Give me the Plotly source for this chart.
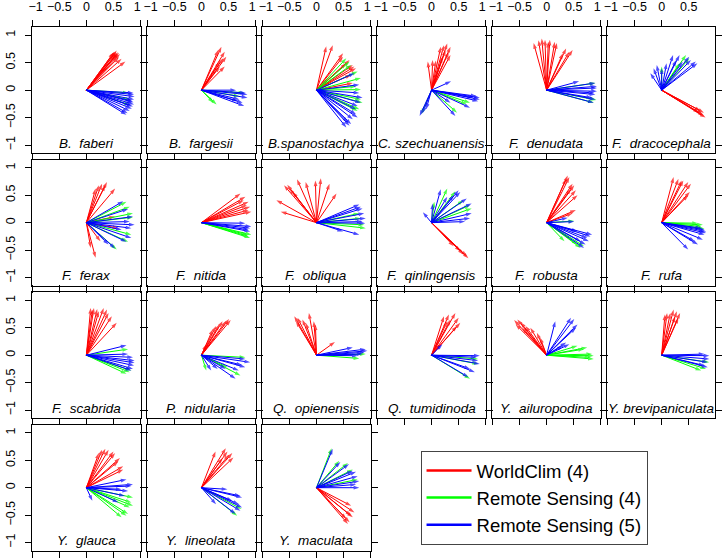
import plotly.graph_objects as go

species = [
    "B.\u00a0 faberi", "B.\u00a0 fargesii", "B.spanostachya", "C. szechuanensis",
    "F.\u00a0 denudata", "F.\u00a0 dracocephala", "F.\u00a0 ferax", "F.\u00a0 nitida",
    "F.\u00a0 obliqua", "F.\u00a0 qinlingensis", "F.\u00a0 robusta", "F.\u00a0 rufa",
    "F.\u00a0 scabrida", "P.\u00a0 nidularia", "Q.\u00a0 opienensis", "Q.\u00a0 tumidinoda",
    "Y.\u00a0 ailuropodina", "Y. brevipaniculata", "Y.\u00a0 glauca", "Y.\u00a0 lineolata",
    "Y.\u00a0 maculata",
]

tick_vals = [-1, -0.5, 0, 0.5, 1]
# padded end labels so that "1" and "-1" of neighbouring panels lean apart
x_tick_text = ["\u00a0\u00a0\u22121", "\u22120.5", "0", "0.5", "1\u00a0\u00a0"]
y_tick_text = ["\u22121", "\u22120.5", "0", "0.5", "1"]

# arrow tips (x, y) per panel, WorldClim (4)
red_tips = [
    [(0.52, 0.70), (0.55, 0.70), (0.58, 0.69), (0.60, 0.68), (0.62, 0.66), (0.57, 0.66), (0.50, 0.68), (0.60, 0.60), (0.65, 0.57), (0.72, 0.52), (0.56, 0.72), (0.54, 0.64)],
    [(0.37, 0.79), (0.43, 0.70), (0.40, 0.58), (0.34, 0.43), (0.43, 0.43), (0.31, 0.73), (0.46, 0.61), (0.34, 0.52)],
    [(0.18, 0.80), (0.30, 0.82), (0.49, 0.67), (0.67, 0.46), (0.70, 0.43), (0.61, 0.55), (0.67, 0.13), (0.49, 0.61), (0.73, 0.40), (0.64, 0.28), (0.55, 0.49)],
    [(0.29, 0.85), (0.35, 0.79), (0.17, 0.79), (0.23, 0.82), (0.32, 0.70), (0.35, 0.64), (-0.07, 0.52), (0.02, 0.55), (0.08, 0.54), (0.26, 0.73), (0.20, 0.61)],
    [(-0.24, 0.86), (-0.15, 0.91), (-0.09, 0.94), (-0.03, 0.92), (0.06, 0.92), (0.15, 0.88), (0.19, 0.86), (0.36, 0.76), (0.48, 0.73), (0.42, 0.70), (0.03, 0.88), (0.30, 0.67)],
    [(0.78, -0.47), (0.75, -0.44), (0.69, -0.41), (0.81, -0.50), (0.72, -0.38), (0.78, -0.41)],
    [(0.23, 0.68), (0.29, 0.71), (0.38, 0.74), (0.35, 0.68), (0.53, 0.62), (0.17, 0.62), (0.53, 0.11), (0.59, -0.10), (0.08, -0.46), (0.17, -0.64), (0.26, -0.34)],
    [(0.72, 0.53), (0.81, 0.47), (0.87, 0.38), (0.90, 0.29), (0.87, 0.23), (0.78, 0.41), (0.84, 0.32), (0.92, 0.20)],
    [(-0.74, 0.41), (-0.66, 0.20), (-0.60, 0.68), (-0.54, 0.69), (-0.50, 0.62), (-0.36, 0.79), (-0.20, 0.74), (-0.02, 0.77), (0.08, 0.81), (0.24, 0.71), (0.37, 0.53), (-0.44, 0.56)],
    [(0.68, -0.65), (0.59, -0.58), (0.41, -0.43), (0.65, -0.61), (0.53, -0.52)],
    [(0.39, 0.86), (0.42, 0.83), (0.48, 0.71), (0.51, 0.68), (0.54, 0.59), (0.57, 0.50), (0.54, 0.23), (0.48, 0.17), (0.36, 0.80), (0.45, 0.62)],
    [(0.22, 0.83), (0.31, 0.80), (0.37, 0.77), (0.49, 0.74), (0.54, 0.71), (0.52, 0.56), (0.49, 0.50), (0.40, 0.77)],
    [(0.08, 0.86), (0.14, 0.86), (0.20, 0.84), (0.32, 0.86), (0.38, 0.83), (0.41, 0.77), (0.47, 0.71), (0.56, 0.59), (0.23, 0.80), (0.11, 0.83)],
    [(0.51, 0.66), (0.54, 0.64), (0.39, 0.62), (0.33, 0.56), (0.27, 0.53), (0.45, 0.62), (0.09, 0.20), (0.21, 0.47)],
    [(-0.41, 0.71), (-0.35, 0.68), (-0.26, 0.65), (-0.14, 0.77), (-0.05, 0.62), (-0.02, 0.56), (-0.20, 0.59), (0.34, 0.24), (-0.38, 0.62)],
    [(0.23, 0.71), (0.32, 0.74), (0.44, 0.77), (0.50, 0.68), (0.53, 0.59), (0.47, 0.53), (0.29, 0.62), (0.35, 0.65), (0.17, 0.20)],
    [(-0.60, 0.64), (-0.54, 0.65), (-0.48, 0.60), (-0.39, 0.53), (-0.30, 0.50), (-0.18, 0.41), (-0.12, 0.32), (-0.57, 0.56), (-0.45, 0.50)],
    [(0.06, 0.74), (0.10, 0.77), (0.22, 0.83), (0.28, 0.80), (0.34, 0.77), (0.31, 0.68), (0.25, 0.71), (0.16, 0.77)],
    [(0.29, 0.69), (0.35, 0.71), (0.41, 0.69), (0.50, 0.66), (0.53, 0.63), (0.62, 0.54), (0.59, 0.48), (0.68, 0.39), (0.68, 0.33), (0.23, 0.63)],
    [(0.26, 0.66), (0.45, 0.72), (0.48, 0.66), (0.57, 0.63), (0.59, 0.55), (0.39, 0.54), (0.51, 0.60)],
    [(0.64, -0.33), (0.70, -0.45), (0.67, -0.54), (0.61, -0.63), (0.55, -0.57), (0.64, -0.51), (0.58, -0.66)],
]

# Remote Sensing (4)
green_tips = [
    [(0.78, -0.05), (0.80, -0.27), (0.82, -0.18)],
    [(0.28, -0.26), (0.22, -0.23), (0.70, -0.11), (0.79, -0.05)],
    [(0.61, 0.52), (0.64, 0.46), (0.82, 0.22), (0.76, 0.34), (0.73, 0.07), (0.82, 0.01), (0.85, -0.23), (0.79, -0.35), (0.82, -0.17), (0.76, -0.38), (0.55, 0.58)],
    [(0.71, -0.23), (0.47, -0.41), (0.65, -0.26), (-0.19, -0.44)],
    [(0.90, 0.13), (0.87, -0.23), (0.92, -0.18)],
    [(0.45, 0.64), (0.0, 0.43), (0.33, 0.49), (0.51, 0.58)],
    [(0.74, 0.38), (0.80, 0.29), (0.86, 0.17), (0.83, -0.22), (0.56, -0.49), (0.77, -0.35), (0.86, 0.10)],
    [(0.87, -0.25), (0.90, -0.28), (0.84, -0.22), (0.92, -0.22)],
    [(0.88, -0.04), (0.91, -0.10), (0.79, 0.17), (0.82, 0.08)],
    [(0.29, 0.62), (0.44, 0.57), (0.71, 0.32), (0.74, 0.26), (0.05, 0.38), (0.59, 0.41)],
    [(0.51, 0.03), (0.33, -0.34), (0.63, -0.46), (0.57, -0.40), (0.69, -0.43)],
    [(0.67, -0.01), (0.76, -0.04), (0.79, -0.11), (0.73, -0.07)],
    [(0.77, 0.11), (0.80, -0.31), (0.74, -0.34), (0.83, -0.28)],
    [(0.09, -0.28), (0.72, -0.37), (0.81, -0.04), (0.48, -0.22)],
    [(0.79, -0.06), (0.91, 0.02)],
    [(0.86, -0.16), (0.71, -0.43), (0.86, -0.07)],
    [(0.57, 0.17), (0.75, 0.14), (0.84, 0.02), (0.87, -0.07), (0.81, -0.04), (0.69, 0.11), (0.87, -0.01)],
    [(0.73, -0.28), (0.82, -0.25), (0.88, -0.13)],
    [(0.86, -0.18), (0.83, -0.27), (0.86, -0.33), (0.77, -0.48), (0.65, -0.54), (0.74, -0.51), (0.80, -0.36)],
    [(0.66, -0.51), (0.74, -0.39)],
    [(0.28, 0.72), (0.42, 0.49), (0.58, 0.45), (0.67, 0.33), (0.76, 0.15)],
]

# Remote Sensing (5)
blue_tips = [
    [(0.88, -0.08), (0.89, -0.12), (0.88, -0.17), (0.87, -0.22), (0.88, -0.26), (0.86, -0.30), (0.84, -0.34), (0.80, -0.38), (0.76, -0.42), (0.74, -0.45), (0.85, -0.20), (0.82, -0.28), (0.87, -0.05)],
    [(0.64, 0.0), (0.82, -0.05), (0.85, -0.14), (0.76, -0.23), (0.79, -0.29), (0.70, -0.17), (0.85, -0.08), (0.67, -0.20)],
    [(0.79, 0.10), (0.85, -0.14), (0.76, -0.29), (0.73, -0.44), (0.67, -0.53), (0.61, -0.65), (0.55, -0.68), (0.64, -0.62), (0.76, -0.50), (0.70, 0.31), (0.79, -0.05), (0.82, -0.23), (0.73, -0.35), (0.58, -0.59)],
    [(0.36, 0.16), (0.83, -0.11), (0.89, -0.17), (0.86, -0.20), (0.77, -0.14), (0.71, -0.32), (0.44, -0.47), (-0.22, -0.47), (-0.16, -0.41), (-0.10, -0.35), (0.89, -0.14), (0.35, -0.23)],
    [(0.60, 0.16), (0.90, 0.13), (0.93, 0.04), (0.93, -0.02), (0.90, -0.08), (0.90, -0.17), (0.87, -0.23), (0.84, -0.14), (0.93, 0.07), (0.88, -0.05)],
    [(-0.21, 0.31), (-0.09, 0.46), (0.0, 0.40), (0.09, 0.49), (0.21, 0.64), (0.27, 0.55), (0.39, 0.52), (0.54, 0.55), (0.63, 0.52), (0.66, 0.49), (0.51, 0.61), (-0.15, 0.40), (0.33, 0.64)],
    [(0.68, 0.39), (0.77, 0.25), (0.86, 0.11), (0.89, -0.04), (0.83, -0.10), (0.83, -0.28), (0.74, -0.35), (0.53, -0.47), (0.41, -0.40), (0.65, -0.13), (0.80, 0.02)],
    [(0.81, -0.01), (0.90, -0.10), (0.90, -0.16), (0.87, -0.13), (0.92, -0.07)],
    [(0.79, 0.33), (0.85, 0.26), (0.88, 0.17), (0.91, 0.08), (0.90, -0.01), (0.79, -0.22), (0.49, -0.16), (0.82, 0.29), (0.85, 0.02)],
    [(-0.16, 0.19), (0.02, 0.35), (0.17, 0.61), (0.29, 0.47), (0.50, 0.59), (0.53, 0.56), (0.65, 0.44), (0.74, 0.35), (0.74, 0.17), (0.71, 0.08), (0.62, 0.02), (0.41, 0.50)],
    [(0.39, 0.09), (0.51, 0.02), (0.81, -0.25), (0.78, -0.34), (0.72, -0.40), (0.63, -0.34), (0.57, -0.16), (0.75, -0.28), (0.69, -0.46), (0.84, -0.22)],
    [(0.79, -0.13), (0.82, -0.19), (0.76, -0.31), (0.67, -0.40), (0.49, -0.49), (0.61, -0.34), (0.79, -0.22), (0.73, -0.10), (0.82, -0.16)],
    [(0.74, 0.18), (0.86, -0.04), (0.89, -0.10), (0.88, -0.19), (0.86, -0.25), (0.83, -0.28), (0.77, 0.02), (0.89, -0.14)],
    [(0.81, -0.07), (0.90, -0.13), (0.81, -0.22), (0.69, -0.28), (0.63, -0.43), (0.30, -0.25), (0.18, -0.28), (0.45, -0.25), (0.75, -0.18)],
    [(0.91, 0.11), (0.88, 0.05), (0.94, 0.08), (0.76, -0.01), (0.85, 0.02), (0.67, 0.14)],
    [(0.89, -0.01), (0.86, -0.10), (0.89, -0.16), (0.71, -0.25), (0.80, -0.31), (0.68, -0.40), (0.20, 0.20), (0.83, -0.04)],
    [(0.16, 0.62), (0.45, 0.68), (0.51, 0.66), (0.57, 0.56), (0.54, 0.50), (0.36, 0.23), (0.42, 0.20), (0.30, 0.17)],
    [(0.79, 0.02), (0.88, -0.01), (0.88, -0.07), (0.85, -0.13), (0.79, -0.19), (0.85, -0.22)],
    [(0.74, 0.15), (0.83, 0.03), (0.77, -0.06), (0.71, -0.15), (0.59, -0.27), (0.11, -0.24), (0.65, -0.03), (0.86, 0.06)],
    [(0.48, -0.03), (0.72, -0.15), (0.75, -0.18), (0.69, -0.30), (0.75, -0.36), (0.72, -0.42), (0.63, -0.48), (0.27, -0.30), (0.57, -0.24)],
    [(0.30, 0.71), (0.44, 0.47), (0.60, 0.43), (0.67, 0.31), (0.73, 0.29), (0.76, 0.21), (0.79, 0.12), (0.79, 0.0), (0.73, 0.06)],
]

series = [
    ("WorldClim (4)", "#FF0000", red_tips),
    ("Remote Sensing (4)", "#00FF00", green_tips),
    ("Remote Sensing (5)", "#0000FF", blue_tips),
]

W, H = 722, 558
PX = 55.6            # pixels per data unit
LEFT, TOP = 21.7, 23.3
COL_STEP, ROW_STEP = 118.0, 134.2
PW, PH = 2 * PX, 2.3 * PX
TICK_FONT = dict(family="Liberation Sans, Arial", size=12.5, color="black")
LABEL_FONT = dict(family="Liberation Sans, Arial", size=13.5, color="black", style="italic")

fig = go.Figure()
axes = {}
annotations = []

for i, name in enumerate(species):
    r, c = divmod(i, 6)
    k = "" if i == 0 else str(i + 1)
    x0 = LEFT + c * COL_STEP
    x1 = x0 + PW
    xr = [-1, 1]
    if x1 > W:
        xr = [-1, -1 + 2 * (W - x0) / PW]
        x1 = W
    y0 = TOP + r * ROW_STEP
    y1 = y0 + PH

    common = dict(showgrid=False, zeroline=False, showline=True, linecolor="black",
                  linewidth=1, mirror="ticks", ticks="outside", ticklen=6, tickwidth=1,
                  tickcolor="black", tickvals=tick_vals, tickfont=TICK_FONT,
                  fixedrange=True)
    axes["xaxis" + k] = dict(common, domain=[x0 / W, x1 / W], range=xr, anchor="y" + k,
                             side="top", showticklabels=(r == 0), ticktext=x_tick_text,
                             ticklabelstandoff=4)
    axes["yaxis" + k] = dict(common, domain=[1 - y1 / H, 1 - y0 / H], range=[-1.15, 1.15],
                             anchor="x" + k, showticklabels=(c == 0), ticktext=y_tick_text,
                             tickangle=-90, ticklabelstandoff=5)

    for label, color, tips in series:
        xs, ys, sizes = [], [], []
        for tx, ty in tips[i]:
            xs += [0, tx, None]
            ys += [0, ty, None]
            sizes += [0, 6, 0]
        fig.add_trace(go.Scatter(
            x=xs, y=ys, mode="lines+markers", xaxis="x" + k, yaxis="y" + k,
            line=dict(color=color, width=1),
            marker=dict(symbol="arrow", size=sizes, angleref="previous", color=color,
                        line=dict(width=0)),
            showlegend=False, hoverinfo="skip",
        ))

    annotations.append(dict(x=0, y=-0.97, xref="x" + k, yref="y" + k, text=name,
                            showarrow=False, font=LABEL_FONT))

for label, color, _ in series:
    fig.add_trace(go.Scatter(x=[None], y=[None], mode="lines", name=label,
                             line=dict(color=color, width=2.5), legendgroup=label))

fig.update_layout(
    width=W, height=H,
    margin=dict(l=0, r=0, t=0, b=0),
    paper_bgcolor="white", plot_bgcolor="white",
    annotations=annotations,
    showlegend=True,
    legend=dict(x=420 / W, y=1 - 452.7 / H, xanchor="left", yanchor="top",
                bordercolor="#444", borderwidth=1, bgcolor="white",
                font=dict(family="Liberation Sans, Arial", size=18.5, color="black"),
                itemwidth=45, tracegroupgap=0, traceorder="grouped"),
    **axes,
)

# drop the page's default body margin so the 722x558 figure fills the window
fig.write_html("out.html", config={"displayModeBar": False},
               post_script="document.body.style.margin='0px';")
